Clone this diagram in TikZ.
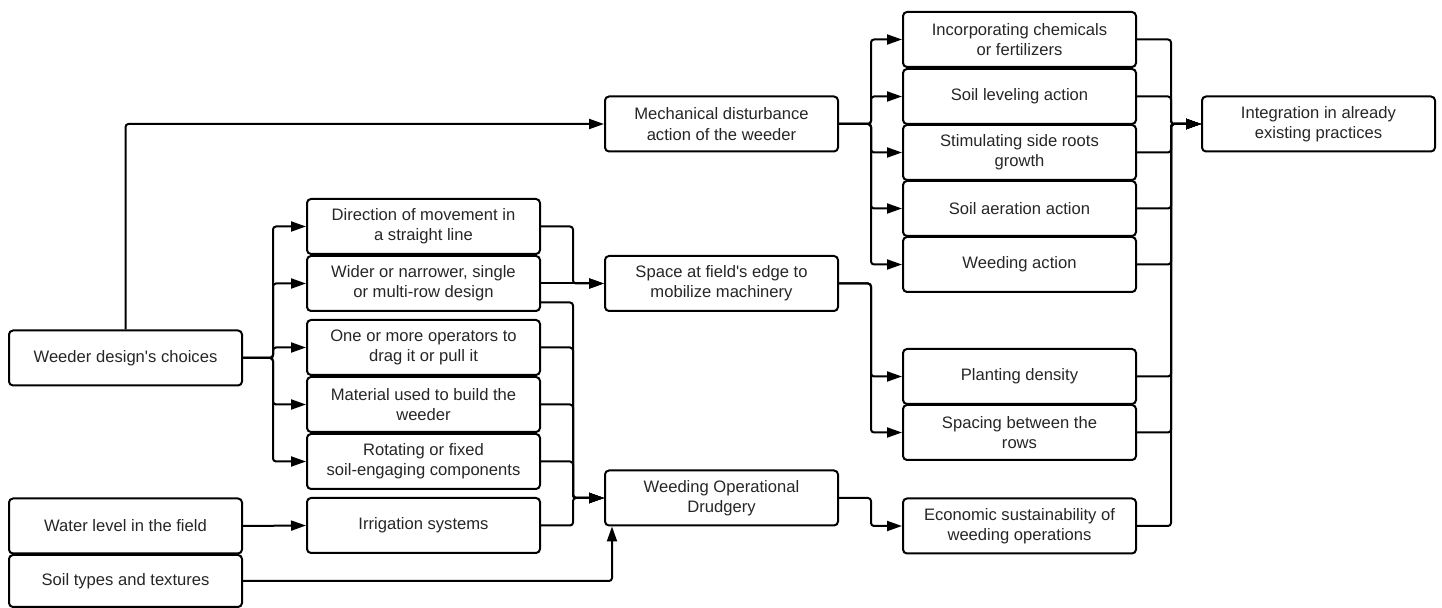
\documentclass[tikz,border=0pt]{standalone}
\usepackage{fontspec}
\setmainfont{Liberation Sans}
\usetikzlibrary{arrows.meta}
\begin{document}
\begin{tikzpicture}[x=0.5pt,y=-0.5pt,
  box/.style={draw,line width=1pt,rounded corners=2pt,minimum width=116.5pt,minimum height=27.5pt,
    align=center,font=\fontsize{8.3}{10.2}\selectfont,text=black!85,inner sep=1pt},
  conn/.style={line width=1pt,rounded corners=1.5pt,-{Triangle[length=7.5pt,width=5pt]}}]
\useasboundingbox (0,0) rectangle (1442,608);
% column 1
\node[box] (design) at (125.5,358) {Weeder design\textquotesingle s choices};
\node[box] (water) at (125.5,526) {Water level in the field};
\node[box,minimum height=26pt] (soil) at (125.5,581) {Soil types and textures};
% column 2
\node[box] (direction) at (423.5,226.5) {Direction of movement in\\a straight line};
\node[box] (wider) at (423.5,283.5) {Wider or narrower, single\\or multi-row design};
\node[box] (one) at (423.5,347.5) {One or more operators to\\drag it or pull it};
\node[box] (material) at (423.5,404.5) {Material used to build the\\weeder};
\node[box] (rotating) at (423.5,461.5) {Rotating or fixed\\soil-engaging components};
\node[box] (irrigation) at (423.5,525.5) {Irrigation systems};
% column 3
\node[box] (mech) at (721.5,124) {Mechanical disturbance\\action of the weeder};
\node[box] (space) at (721.5,283.5) {Space at field\textquotesingle s edge to\\mobilize machinery};
\node[box] (drudgery) at (721.5,498) {Weeding Operational\\Drudgery};
% column 4
\node[box] (incorp) at (1019.5,39.5) {Incorporating chemicals\\or fertilizers};
\node[box] (leveling) at (1019.5,96.5) {Soil leveling action};
\node[box] (stim) at (1019.5,152.5) {Stimulating side roots\\growth};
\node[box] (aeration) at (1019.5,208.5) {Soil aeration action};
\node[box] (weedact) at (1019.5,264.5) {Weeding action};
\node[box] (planting) at (1019.5,376.5) {Planting density};
\node[box] (spacing) at (1019.5,432.5) {Spacing between the\\rows};
\node[box] (economic) at (1019.5,526) {Economic sustainability of\\weeding operations};
% column 5
\node[box] (integration) at (1318.5,124) {Integration in already\\existing practices};
% connectors from design
\draw[conn] (design.north) |- (mech.west);
\foreach \t in {direction,wider,one,material,rotating}
  \draw[conn] (design.east) -- ++(30,0) |- (\t.west);
% to space
\draw[conn] (direction.east) -- ++(32,0) |- (space.west);
\draw[conn] (wider.east) -- (space.west);
% to drudgery
\draw[conn] ([yshift=-9.5pt]wider.east) -- ++(32,0) |- (drudgery.west);
\foreach \t in {one,material,rotating,irrigation}
  \draw[conn] (\t.east) -- ++(32,0) |- (drudgery.west);
\draw[conn] (water.east) -- (irrigation.west);
\draw[conn] (soil.east) -| ([xshift=4pt]drudgery.south west);
% from mech
\foreach \t in {incorp,leveling,stim,aeration,weedact}
  \draw[conn] (mech.east) -- ++(32,0) |- (\t.west);
\foreach \t in {planting,spacing}
  \draw[conn] (space.east) -- ++(32,0) |- (\t.west);
\draw[conn] (drudgery.east) -- ++(32,0) |- (economic.west);
% to integration
\foreach \t in {incorp,leveling,stim,aeration,weedact,planting,spacing,economic}
  \draw[conn] (\t.east) -- ++(34,0) |- (integration.west);
\end{tikzpicture}
\end{document}
